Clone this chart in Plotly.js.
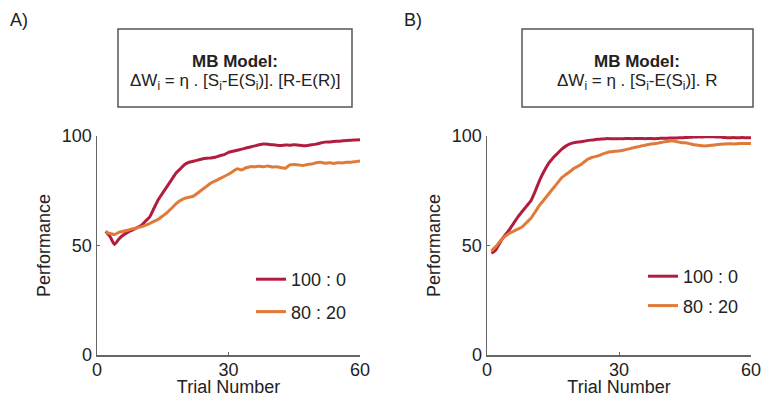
<!DOCTYPE html>
<html>
<head>
<meta charset="utf-8">
<script src="https://cdn.plot.ly/plotly-3.0.1.min.js"></script>
<style>html,body{margin:0;padding:0;background:#fff;}#chart{width:765px;height:397px;}</style>
</head>
<body>
<div id="chart"></div>
<script>
// Panel A (MB model, [S-E(S)].[R-E(R)])
const trialsA = [2,3,4,5,6,7,8,9,10,11,12,13,14,15,16,17,18,19,20,21,22,23,24,25,26,27,28,29,30,31,32,33,34,35,36,37,38,39,40,41,42,43,44,45,46,47,48,49,50,51,52,53,54,55,56,57,58,59,60];
const a100_0 = [56.5,54,50.5,53,54.8,56,57,58,59,61,63,67,71,74,77,80,83,85,87,88,88.5,89,89.5,89.8,90,90.3,91,91.5,92.5,93,93.5,94,94.5,95,95.5,96,96.3,96.2,96,95.8,95.7,95.9,95.8,96,95.8,95.6,95.7,96,96.3,96.8,97.2,97.3,97.5,97.6,97.8,98,98.1,98.2,98.3];
const a80_20 = [56,55.5,55,56,56.5,57,57.5,58,58.5,59.2,60,61,62,63.5,65,67,69,70.5,71.5,72,72.5,74,75.5,77,78.5,79.5,80.5,81.5,82.5,83.8,85,84.5,85.5,86,86,86.2,86,86.3,85.8,86,85.5,85.3,86.8,87,86.8,86.5,87,87.2,87.8,88,87.6,87.8,87.5,87.8,87.7,88,88,88.3,88.6];
// Panel B (MB model, [S-E(S)].R)
const trialsB = [1,2,3,4,5,6,7,8,9,10,11,12,13,14,15,16,17,18,19,20,21,22,23,24,25,26,27,28,29,30,31,32,33,34,35,36,37,38,39,40,41,42,43,44,45,46,47,48,49,50,51,52,53,54,55,56,57,58,59,60];
const b100_0 = [46.5,48,51.5,54.5,57,60,63,65.5,68,70.5,75,80,84,87.5,90,92,94,95.5,96.5,97,97.3,97.6,98,98.2,98.5,98.6,98.8,98.8,98.7,98.8,98.8,98.9,98.8,98.9,98.9,98.8,98.9,98.8,98.9,99,99,99.1,99.1,99.2,99.3,99.4,99.5,99.6,99.6,99.7,99.7,99.6,99.5,99.3,99.2,99.3,99.2,99.3,99.2,99.2];
const b80_20 = [47.5,49.5,52,54,55.5,56.5,57.5,58.5,60.5,62.5,65.5,68.5,71,73.5,76,78.5,81,82.5,84,85.5,86.5,88,89.5,90.3,90.8,91.5,92.3,92.8,93,93.2,93.5,94,94.5,95,95.4,95.8,96.2,96.5,96.8,97.2,97.5,97.8,97.5,97,96.9,96.5,96,95.8,95.5,95.5,95.8,96,96.2,96.4,96.5,96.4,96.5,96.6,96.6,96.6];

const seriesNames = ["100 : 0", "80 : 20"];
const xTicks = [0, 30, 60];
const yTicks = [0, 50, 100];
const panelLabels = ["A)", "B)"];
const boxTitle = "MB Model:";
const formulaA = "ΔW<sub>i</sub> = η . [S<sub>i</sub>-E(S<sub>i</sub>)]. [R-E(R)]";
const formulaB = "ΔW<sub>i</sub> = η . [S<sub>i</sub>-E(S<sub>i</sub>)]. R";

const RED = "#B01E3E", ORANGE = "#E07A38";
const FONT = "Liberation Sans, Arial, sans-serif";
const TXT = "#222";
const FS = 18;

function line(x, y, color, name, xa, ya, leg) {
  return {x: x, y: y, type: "scatter", mode: "lines", name: name,
    line: {color: color, width: 3, shape: "spline", smoothing: 0.6},
    xaxis: xa, yaxis: ya, legend: leg, legendgroup: leg + name, showlegend: true};
}

const data = [
  line(trialsA, a100_0, RED, seriesNames[0], "x", "y", "legend"),
  line(trialsA, a80_20, ORANGE, seriesNames[1], "x", "y", "legend"),
  line(trialsB, b100_0, RED, seriesNames[0], "x2", "y2", "legend2"),
  line(trialsB, b80_20, ORANGE, seriesNames[1], "x2", "y2", "legend2")
];

function xax(domain, anchor) {
  return {domain: domain, anchor: anchor, range: [0, 60], tickvals: xTicks, ticktext: xTicks.map(String),
    showline: true, linecolor: "#666", linewidth: 1.5, ticks: "inside", ticklen: 3, tickcolor: "#666",
    ticklabelstandoff: -2,
    showgrid: false, zeroline: false, tickfont: {family: FONT, size: FS, color: TXT},
    title: {text: "Trial Number", font: {family: FONT, size: FS, color: TXT}, standoff: 7}};
}
function yax(domain, anchor) {
  return {domain: domain, anchor: anchor, range: [0, 100], tickvals: yTicks, ticktext: yTicks.map(String),
    showline: true, linecolor: "#666", linewidth: 1.5, ticks: "inside", ticklen: 3, tickcolor: "#666",
    showgrid: false, zeroline: false, tickfont: {family: FONT, size: FS, color: TXT},
    title: {text: "Performance", font: {family: FONT, size: FS, color: TXT}, standoff: 6}};
}

const yDom = [1 - 355/397, 1 - 136/397];
const layout = {
  width: 765, height: 397,
  margin: {l: 0, r: 0, t: 0, b: 0},
  paper_bgcolor: "#fff", plot_bgcolor: "#fff",
  font: {family: FONT, color: TXT},
  xaxis: xax([97/765, 360/765], "y"),
  yaxis: yax(yDom, "x"),
  xaxis2: xax([487/765, 751/765], "y2"),
  yaxis2: yax(yDom, "x2"),
  legend: {x: 251/765, y: 1 - 261/397, xanchor: "left", yanchor: "top", bgcolor: "rgba(0,0,0,0)",
    font: {family: FONT, size: FS, color: TXT}, traceorder: "grouped", tracegroupgap: 6},
  legend2: {x: 643/765, y: 1 - 258/397, xanchor: "left", yanchor: "top", bgcolor: "rgba(0,0,0,0)",
    font: {family: FONT, size: FS, color: TXT}, traceorder: "grouped", tracegroupgap: 3},
  shapes: [
    {type: "rect", xref: "paper", yref: "paper", x0: 118/765, x1: 352/765, y0: 1 - 107/397, y1: 1 - 29/397,
      line: {color: "#555", width: 1.5}},
    {type: "rect", xref: "paper", yref: "paper", x0: 522/765, x1: 753/765, y0: 1 - 107/397, y1: 1 - 29/397,
      line: {color: "#555", width: 1.5}}
  ],
  annotations: [
    {text: panelLabels[0], xref: "paper", yref: "paper", x: 8/765, y: 1 - 20/397, xanchor: "left", yanchor: "middle",
      showarrow: false, font: {family: FONT, size: FS, color: TXT}},
    {text: panelLabels[1], xref: "paper", yref: "paper", x: 402/765, y: 1 - 20/397, xanchor: "left", yanchor: "middle",
      showarrow: false, font: {family: FONT, size: FS, color: TXT}},
    {text: "<b>" + boxTitle + "</b>", xref: "paper", yref: "paper", x: 235/765, y: 1 - 61/397, xanchor: "center", yanchor: "middle",
      showarrow: false, font: {family: FONT, size: 17, color: TXT}},
    {text: formulaA, xref: "paper", yref: "paper", x: 235/765, y: 1 - 82/397, xanchor: "center", yanchor: "middle",
      showarrow: false, font: {family: FONT, size: 17, color: TXT}},
    {text: "<b>" + boxTitle + "</b>", xref: "paper", yref: "paper", x: 637/765, y: 1 - 61/397, xanchor: "center", yanchor: "middle",
      showarrow: false, font: {family: FONT, size: 17, color: TXT}},
    {text: formulaB, xref: "paper", yref: "paper", x: 637/765, y: 1 - 82/397, xanchor: "center", yanchor: "middle",
      showarrow: false, font: {family: FONT, size: 17, color: TXT}}
  ]
};

Plotly.newPlot("chart", data, layout, {displayModeBar: false, staticPlot: true});
</script>
</body>
</html>
